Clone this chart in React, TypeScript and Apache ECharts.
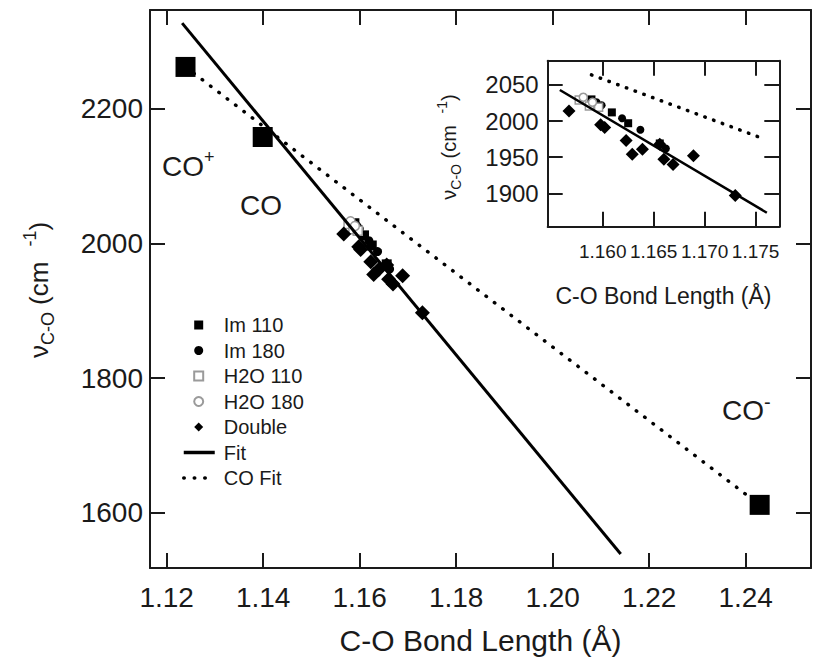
import React, { useEffect, useRef } from "react";
import * as echarts from "echarts";

// ---------- tick values ----------
const mainXTicks = [1.12, 1.14, 1.16, 1.18, 1.2, 1.22, 1.24];
const mainYTicks = [1600, 1800, 2000, 2200];
const insetXTicks = [1.16, 1.165, 1.17, 1.175];
const insetYTicks = [1900, 1950, 2000, 2050];

// ---------- data (C-O bond length in Å, stretching frequency in cm-1) ----------
// reference molecules CO+, CO, CO-
const coX = [1.1239, 1.1399, 1.2429];
const coY = [2262, 2158, 1612];

const im110X = [1.1589, 1.1609, 1.1625, 1.1656];
const im110Y = [2030, 2012, 1997, 1969];

const im180X = [1.1594, 1.1599, 1.1619, 1.1637, 1.1662];
const im180Y = [2026, 2022, 2004, 1988, 1962];

const h2o110X = [1.1577, 1.1587, 1.1596];
const h2o110Y = [2029, 2021, 2019];

const h2o180X = [1.1581, 1.159];
const h2o180Y = [2033, 2026];

const doubleX = [1.1567, 1.1598, 1.1602, 1.1623, 1.1629, 1.1639, 1.1656, 1.166, 1.1669, 1.1689, 1.173];
const doubleY = [2014, 1995, 1991, 1973, 1954, 1961, 1968, 1947, 1940, 1952, 1897];

// fit lines (end points as drawn)
const fitX = [1.1232, 1.2141];
const fitY = [2327, 1539];
const coFitX = [1.1239, 1.2429];
const coFitY = [2262, 1612];
const insetFitX = [1.1558, 1.1761];
const insetFitY = [2043, 1873];
const insetCoFitX = [1.1589, 1.1753];
const insetCoFitY = [2064, 1978];

const markerLegendNames = ["Im 110", "Im 180", "H2O 110", "H2O 180", "Double"];
const lineLegendNames = ["Fit", "CO Fit"];

const pairs = (xs: number[], ys: number[]) => xs.map((x, i) => [x, ys[i]]);

const FONT = "'Liberation Sans', Arial, sans-serif";
const INK = "#1a1a1a";
const GRAY = "#9a9a9a";

export default function App() {
  const ref = useRef<HTMLDivElement>(null);

  useEffect(() => {
    if (!ref.current) return;
    const chart = echarts.init(ref.current, null, { renderer: "svg" });

    const axisLine = { show: true, onZero: false, lineStyle: { color: INK, width: 2 } };

    const xAxisDef = (
      gridIndex: number,
      position: string,
      min: number,
      max: number,
      ticks: number[],
      showLabel: boolean,
      fontSize: number,
      margin: number,
      digits: number,
      name?: string,
      nameGap?: number,
      nameSize?: number
    ) => ({
      type: "value",
      gridIndex,
      position,
      min,
      max,
      axisLine,
      splitLine: { show: false },
      axisTick: { show: true, inside: true, length: 15, customValues: ticks, lineStyle: { color: INK, width: 2 } },
      axisLabel: {
        show: showLabel,
        customValues: ticks,
        formatter: (v: number) => v.toFixed(digits),
        fontSize,
        margin,
        color: INK,
        fontFamily: FONT,
        hideOverlap: false,
      },
      name: name || "",
      nameLocation: "middle",
      nameGap: nameGap || 0,
      nameTextStyle: { fontSize: nameSize || 12, color: INK, fontFamily: FONT },
    });

    const yAxisDef = (
      gridIndex: number,
      position: string,
      min: number,
      max: number,
      ticks: number[],
      showLabel: boolean,
      fontSize: number,
      margin: number
    ) => ({
      type: "value",
      gridIndex,
      position,
      min,
      max,
      axisLine,
      splitLine: { show: false },
      axisTick: { show: true, inside: true, length: 15, customValues: ticks, lineStyle: { color: INK, width: 2 } },
      axisLabel: {
        show: showLabel,
        customValues: ticks,
        formatter: (v: number) => String(v),
        fontSize,
        margin,
        color: INK,
        fontFamily: FONT,
      },
    });

    const scatterSet = (xi: number, size: { sq: number; ci: number; di: number; op: number }) => [
      {
        name: "Im 110",
        type: "scatter",
        xAxisIndex: xi,
        yAxisIndex: xi,
        symbol: "rect",
        symbolSize: size.sq,
        itemStyle: { color: "#000", opacity: 1 },
        data: pairs(im110X, im110Y),
      },
      {
        name: "Im 180",
        type: "scatter",
        xAxisIndex: xi,
        yAxisIndex: xi,
        symbol: "circle",
        symbolSize: size.ci,
        itemStyle: { color: "#000", opacity: 1 },
        data: pairs(im180X, im180Y),
      },
      {
        name: "H2O 110",
        type: "scatter",
        xAxisIndex: xi,
        yAxisIndex: xi,
        symbol: "rect",
        symbolSize: size.op,
        itemStyle: { color: "#fff", borderColor: GRAY, borderWidth: 1.5, opacity: 1 },
        data: pairs(h2o110X, h2o110Y),
      },
      {
        name: "H2O 180",
        type: "scatter",
        xAxisIndex: xi,
        yAxisIndex: xi,
        symbol: "circle",
        symbolSize: size.op,
        itemStyle: { color: "#fff", borderColor: GRAY, borderWidth: 1.5, opacity: 1 },
        data: pairs(h2o180X, h2o180Y),
      },
      {
        name: "Double",
        type: "scatter",
        xAxisIndex: xi,
        yAxisIndex: xi,
        symbol: "diamond",
        symbolSize: size.di,
        itemStyle: { color: "#000", opacity: 1 },
        data: pairs(doubleX, doubleY),
      },
    ];

    const lineSet = (
      xi: number,
      fx: number[],
      fy: number[],
      cx: number[],
      cy: number[],
      w: number,
      dash: number[]
    ) => [
      {
        name: "Fit",
        type: "line",
        xAxisIndex: xi,
        yAxisIndex: xi,
        symbol: "none",
        itemStyle: { color: "#000" },
        lineStyle: { color: "#000", width: w },
        data: pairs(fx, fy),
      },
      {
        name: "CO Fit",
        type: "line",
        xAxisIndex: xi,
        yAxisIndex: xi,
        symbol: "none",
        itemStyle: { color: "#000" },
        lineStyle: { color: "#000", width: 3.5, type: dash, cap: "round" },
        data: pairs(cx, cy),
      },
    ];

    const option: any = {
      animation: false,
      backgroundColor: "#fff",
      textStyle: { fontFamily: FONT },
      grid: [
        { left: 150, top: 10, width: 661, height: 558, containLabel: false, outerBoundsMode: "none" },
        { left: 547.7, top: 60.7, width: 231.6, height: 166, containLabel: false, outerBoundsMode: "none" },
      ],
      xAxis: [
        xAxisDef(0, "bottom", 1.11654, 1.25354, mainXTicks, true, 28, 15, 2, "C-O Bond Length (Å)", 57, 30),
        xAxisDef(0, "top", 1.11654, 1.25354, mainXTicks, false, 28, 15, 2),
        xAxisDef(1, "bottom", 1.15461, 1.17732, insetXTicks, true, 19, 15, 3, "C-O Bond Length (Å)", 58, 23),
        xAxisDef(1, "top", 1.15461, 1.17732, insetXTicks, false, 19, 15, 3),
      ],
      yAxis: [
        yAxisDef(0, "left", 1518.3, 2346.5, mainYTicks, true, 28, 7),
        yAxisDef(0, "right", 1518.3, 2346.5, mainYTicks, false, 28, 7),
        yAxisDef(1, "left", 1853.7, 2083.6, insetYTicks, true, 24, 9),
        yAxisDef(1, "right", 1853.7, 2083.6, insetYTicks, false, 24, 9),
      ],
      legend: [
        {
          data: markerLegendNames,
          orient: "vertical",
          left: 193.2,
          top: 315,
          padding: 0,
          itemWidth: 9,
          itemHeight: 9,
          itemGap: 5.5,
          selectedMode: false,
          textStyle: { fontSize: 20, lineHeight: 20, color: INK, fontFamily: FONT, padding: [0, 0, 0, 15.5] },
        },
        {
          data: lineLegendNames.map((n) => ({ name: n, itemStyle: { opacity: 0 } })),
          orient: "vertical",
          left: 182,
          top: 442.5,
          padding: 0,
          itemWidth: 31,
          itemHeight: 9,
          itemGap: 5.5,
          selectedMode: false,
          lineStyle: { width: 3.5 },
          textStyle: { fontSize: 20, lineHeight: 20, color: INK, fontFamily: FONT, padding: [0, 0, 0, 4] },
        },
      ],
      series: [
        ...lineSet(0, fitX, fitY, coFitX, coFitY, 3, [0.5, 10]),
        {
          name: "CO",
          type: "scatter",
          xAxisIndex: 0,
          yAxisIndex: 0,
          symbol: "rect",
          symbolSize: 20,
          itemStyle: { color: "#000", opacity: 1 },
          data: pairs(coX, coY),
        },
        ...scatterSet(0, { sq: 10, ci: 9, di: 15, op: 9 }),
        ...lineSet(2, insetFitX, insetFitY, insetCoFitX, insetCoFitY, 2.5, [0.5, 8.8]),
        ...scatterSet(2, { sq: 8, ci: 8, di: 13, op: 8 }),
      ],
      graphic: [
        {
          type: "text",
          x: 39,
          y: 290,
          rotation: Math.PI / 2,
          style: {
            text: "{a|ν}{sub|C-O}{a| (cm}{sup|   -1}{a|)}",
            align: "center",
            verticalAlign: "middle",
            fill: INK,
            rich: {
              a: { fontSize: 26, lineHeight: 36, fontFamily: FONT, fill: INK, color: INK },
              sub: { fontSize: 18, lineHeight: 12, verticalAlign: "bottom", fontFamily: FONT, fill: INK, color: INK },
              sup: { fontSize: 18, lineHeight: 4, verticalAlign: "top", fontFamily: FONT, fill: INK, color: INK },
            },
          },
        },
        {
          type: "text",
          x: 449,
          y: 147,
          rotation: Math.PI / 2,
          style: {
            text: "{a|ν}{sub|C-O}{a| (cm}{sup|   -1}{a|)}",
            align: "center",
            verticalAlign: "middle",
            fill: INK,
            rich: {
              a: { fontSize: 20, lineHeight: 28, fontFamily: FONT, fill: INK, color: INK },
              sub: { fontSize: 14, lineHeight: 8, verticalAlign: "bottom", fontFamily: FONT, fill: INK, color: INK },
              sup: { fontSize: 14, lineHeight: 4, verticalAlign: "top", fontFamily: FONT, fill: INK, color: INK },
            },
          },
        },
        {
          type: "text",
          x: 162,
          y: 166,
          style: {
            text: "{a|CO}{s|+}",
            align: "left",
            verticalAlign: "middle",
            fill: INK,
            rich: {
              a: { fontSize: 28, lineHeight: 36, fontFamily: FONT, fill: INK, color: INK },
              s: { fontSize: 18, lineHeight: 12, verticalAlign: "top", fontFamily: FONT, fill: INK, color: INK },
            },
          },
        },
        {
          type: "text",
          x: 240,
          y: 205,
          style: {
            text: "CO",
            align: "left",
            verticalAlign: "middle",
            fill: INK,
            fontSize: 28,
            fontFamily: FONT,
          },
        },
        {
          type: "text",
          x: 722,
          y: 410,
          style: {
            text: "{a|CO}{s|-}",
            align: "left",
            verticalAlign: "middle",
            fill: INK,
            rich: {
              a: { fontSize: 28, lineHeight: 36, fontFamily: FONT, fill: INK, color: INK },
              s: { fontSize: 20, lineHeight: 10, verticalAlign: "top", fontFamily: FONT, fill: INK, color: INK },
            },
          },
        },
      ],
    };

    chart.setOption(option);
    return () => chart.dispose();
  }, []);

  return (
    <div
      ref={ref}
      style={{ position: "fixed", left: 0, top: 0, width: 813, height: 662, background: "#fff" }}
    />
  );
}
